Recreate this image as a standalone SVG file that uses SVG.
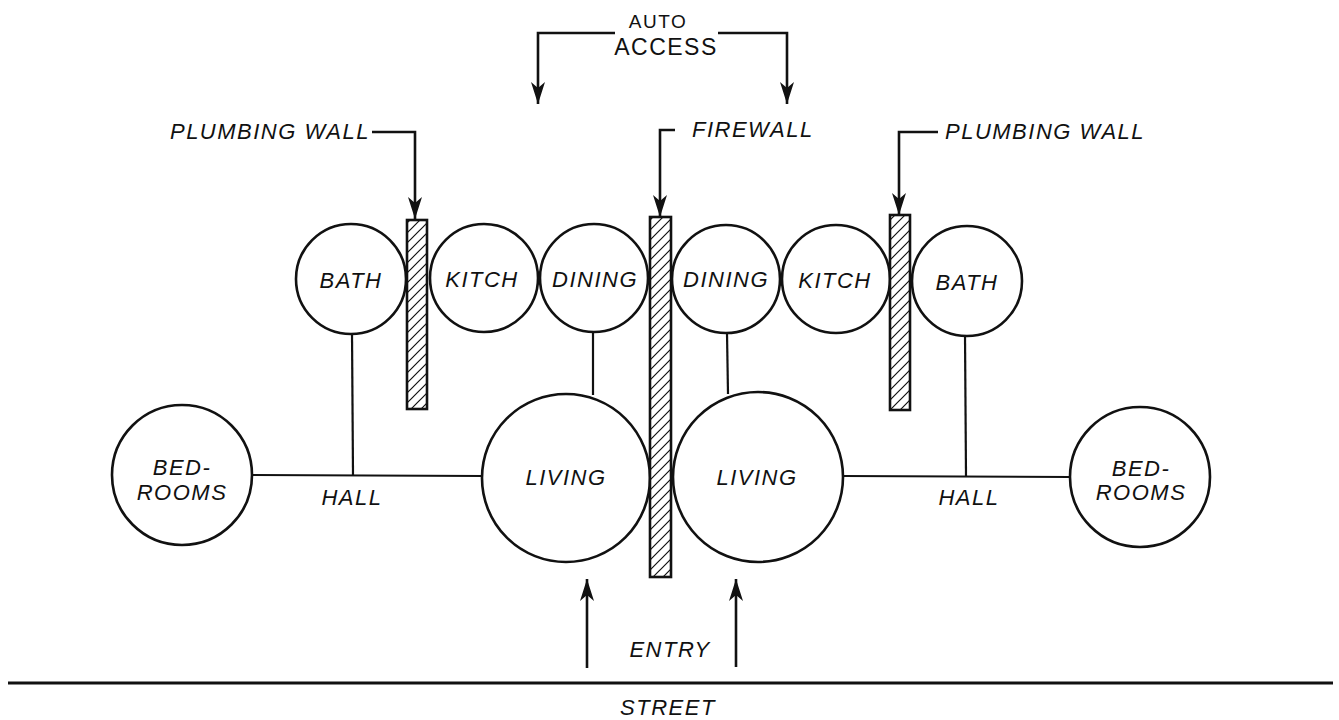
<svg xmlns="http://www.w3.org/2000/svg" width="1339" height="720" viewBox="0 0 1339 720">
<style>
  .room { fill: #fff; stroke: #111; stroke-width: 2.6; }
  .wall { fill: url(#hatch); stroke: #111; stroke-width: 2.6; }
  .link { fill: none; stroke: #111; stroke-width: 2.2; }
  .lead { fill: none; stroke: #111; stroke-width: 2.6; marker-end: url(#arrow); }
  .street { fill: none; stroke: #111; stroke-width: 2.8; }
  text { font-family: "Liberation Sans", Arial, sans-serif; font-style: italic; fill: #111; font-size: 22px; letter-spacing: 1.5px; }
  .c { text-anchor: middle; }
  .up { font-style: normal; }
</style>
<defs>
  <pattern id="hatch" patternUnits="userSpaceOnUse" width="10" height="10">
    <rect width="10" height="10" fill="#fff"/>
    <path d="M-2,12 L12,-2 M-2,2 L2,-2 M8,12 L12,8" stroke="#111" stroke-width="1.2"/>
  </pattern>
  <marker id="arrow" markerUnits="userSpaceOnUse" markerWidth="24" markerHeight="14" refX="22" refY="7" orient="auto">
    <path d="M0,0 L22,7 L0,14 L6,7 Z" fill="#111"/>
  </marker>
</defs>
<rect width="1339" height="720" fill="#fff"/>

<g id="connectors">
  <line class="link" x1="252" y1="475" x2="482" y2="476"/>
  <line class="link" x1="352" y1="333" x2="353" y2="475"/>
  <line class="link" x1="593" y1="332" x2="593" y2="395"/>
  <line class="link" x1="727" y1="333" x2="728" y2="394"/>
  <line class="link" x1="843" y1="476" x2="1070" y2="477"/>
  <line class="link" x1="965" y1="335" x2="966" y2="476"/>
  <path class="lead" d="M615,33 L538,33 L538,104"/>
  <path class="lead" d="M718,33 L787,33 L787,104"/>
  <path class="lead" d="M372,132 L415,132 L415,219"/>
  <path class="lead" d="M675,130 L660,130 L660,217"/>
  <path class="lead" d="M938,132 L899,132 L899,215"/>
  <path class="lead" d="M587,668 L587,579"/>
  <path class="lead" d="M736,667 L736,579"/>
  <line class="street" x1="8" y1="683" x2="1333" y2="683"/>
</g>

<g id="bedrooms-left">
  <circle class="room" cx="182" cy="475" r="70"/>
  <text class="c" x="182" y="475">BED-</text>
  <text class="c" x="182" y="500">ROOMS</text>
</g>
<g id="bath-left">
  <circle class="room" cx="351" cy="279" r="55"/>
  <text class="c" x="351" y="288">BATH</text>
</g>
<g id="plumbing-wall-left">
  <rect class="wall" x="407" y="220" width="20" height="189"/>
</g>
<g id="kitch-left">
  <circle class="room" cx="484" cy="278" r="54"/>
  <text class="c" x="482" y="287">KITCH</text>
</g>
<g id="dining-left">
  <circle class="room" cx="594" cy="278" r="54"/>
  <text class="c" x="595" y="287">DINING</text>
</g>
<g id="living-left">
  <circle class="room" cx="566" cy="478" r="84"/>
  <text class="c" x="566" y="485">LIVING</text>
</g>
<g id="firewall">
  <rect class="wall" x="650" y="217" width="21" height="360"/>
</g>
<g id="dining-right">
  <circle class="room" cx="726" cy="279" r="54"/>
  <text class="c" x="726" y="287">DINING</text>
</g>
<g id="kitch-right">
  <circle class="room" cx="836" cy="279" r="54"/>
  <text class="c" x="835" y="288">KITCH</text>
</g>
<g id="plumbing-wall-right">
  <rect class="wall" x="890" y="215" width="20" height="195"/>
</g>
<g id="bath-right">
  <circle class="room" cx="967" cy="281" r="55"/>
  <text class="c" x="967" y="290">BATH</text>
</g>
<g id="living-right">
  <circle class="room" cx="758" cy="477" r="85"/>
  <text class="c" x="757" y="485">LIVING</text>
</g>
<g id="bedrooms-right">
  <circle class="room" cx="1140" cy="477" r="70"/>
  <text class="c" x="1141" y="476">BED-</text>
  <text class="c" x="1141" y="500">ROOMS</text>
</g>

<g id="labels">
  <text class="c up" x="658" y="28" style="font-size:19px">AUTO</text>
  <text class="c up" x="666" y="55" style="font-size:23px">ACCESS</text>
  <text x="370" y="139" style="text-anchor:end">PLUMBING WALL</text>
  <text x="692" y="137">FIREWALL</text>
  <text x="945" y="139">PLUMBING WALL</text>
  <text class="c" x="352" y="505">HALL</text>
  <text class="c" x="969" y="505">HALL</text>
  <text class="c" x="670" y="657">ENTRY</text>
  <text class="c" x="668" y="715">STREET</text>
</g>
</svg>
